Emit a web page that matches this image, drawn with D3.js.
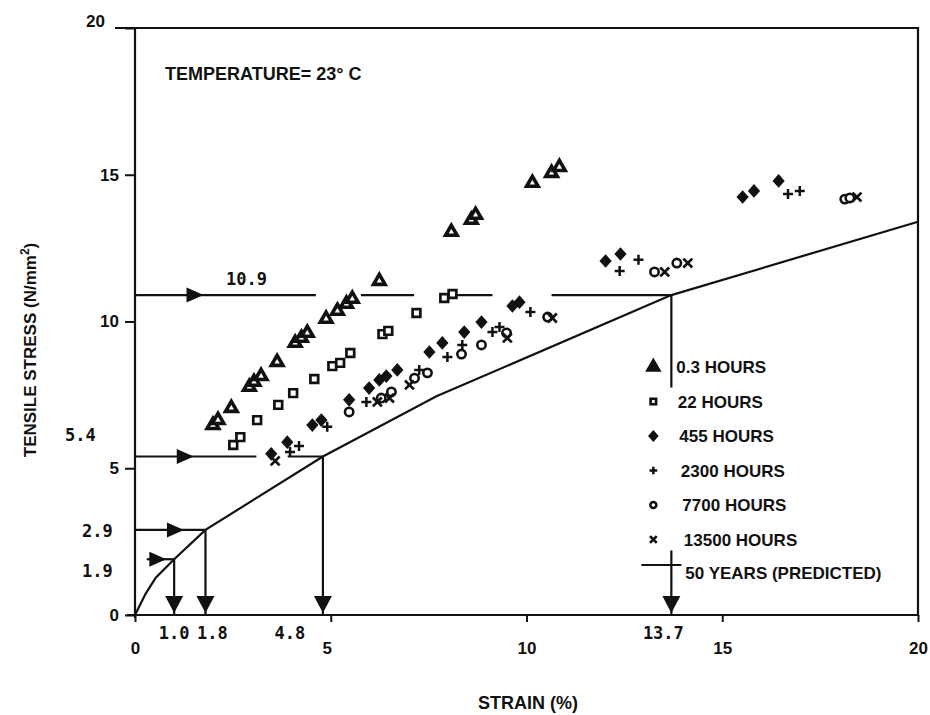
<!DOCTYPE html>
<html lang='en'>
<head>
  <meta charset='utf-8'/>
  <title>Tensile stress vs strain, 23 °C</title>
  <script src='https://d3js.org/d3.v7.min.js'></script>
  <style>
    body{margin:0;background:#ffffff;}
    text{fill:#111;}
    .sans{font-family:'Liberation Sans',Arial,Helvetica,sans-serif;font-weight:bold;}
    .mono{font-family:'DejaVu Sans Mono','Liberation Mono',monospace;font-weight:bold;}
  </style>
</head>
<body>
<svg id='chart'></svg>
<script>
// Data (strain %, tensile stress N/mm2)
const xTicks = [0, 5, 10, 15, 20];
const yTicks = [0, 5, 10, 15, 20];

const hours0_3 = [[1.99,6.47],[2.12,6.64],[2.46,7.05],[2.92,7.77],[3.04,7.94],[3.22,8.14],[3.63,8.62],
  [4.09,9.27],[4.25,9.44],[4.40,9.61],[4.88,10.09],[5.17,10.36],[5.40,10.60],[5.55,10.77],[6.24,11.38],
  [8.08,13.05],[8.59,13.46],[8.70,13.63],[10.15,14.72],[10.64,15.06],[10.84,15.26]];
const hours22 = [[2.51,5.79],[2.69,6.06],[3.12,6.64],[3.66,7.16],[4.04,7.56],[4.58,8.04],[5.04,8.48],
  [5.24,8.59],[5.50,8.93],[6.32,9.57],[6.47,9.68],[7.19,10.29],[7.90,10.80],[8.11,10.94]];
const hours455 = [[3.48,5.49],[3.89,5.89],[4.53,6.47],[4.76,6.64],[5.47,7.33],[5.98,7.73],[6.24,8.01],
  [6.42,8.14],[6.70,8.35],[7.52,8.96],[7.85,9.27],[8.41,9.64],[8.85,9.98],[9.64,10.53],[9.82,10.66],
  [12.02,12.06],[12.40,12.30],[15.52,14.24],[15.81,14.45],[16.44,14.79]];
const hours2300 = [[3.96,5.55],[4.19,5.76],[4.91,6.41],[5.91,7.26],[7.26,8.35],[7.98,8.79],[8.36,9.20],
  [9.13,9.64],[9.31,9.81],[10.10,10.32],[12.38,11.72],[12.86,12.10],[16.68,14.34],[16.98,14.45]];
const hours7700 = [[5.47,6.92],[6.29,7.39],[6.55,7.60],[7.14,8.07],[7.47,8.25],[8.34,8.89],[8.85,9.20],
  [9.49,9.61],[10.54,10.15],[13.27,11.69],[13.84,11.99],[18.13,14.17],[18.26,14.21]];
const hours13500 = [[3.58,5.25],[6.19,7.26],[6.50,7.39],[7.01,7.84],[9.51,9.44],[10.66,10.12],
  [13.53,11.69],[14.12,11.99],[18.44,14.24]];

// 50 years predicted isochronous curve
const predicted = [[0,0],[0.27,0.72],[0.53,1.27],[1.0,1.9],[1.8,2.9],[4.8,5.4],[7.7,7.45],[13.7,10.9],[20,13.4]];

// read-across guides: stress level -> strain, with the visible runs of each line
const guideStress = [10.9, 5.4, 2.9, 1.9];
const guideStrain = [13.7, 4.8, 1.8, 1.0];
const guideHRuns = [[[0,4.62],[5.77,7.13],[8.08,9.13],[10.64,13.7]], [[0,3.1],[3.9,4.8]], [[0,1.8]], [[0.3,1.0]]];
const guideVRuns = [[[0,2.2],[7.75,10.9]], [[0,5.4]], [[0,2.9]], [[0,1.9]]];
const guideArrowAt = [1.75, 1.5, 1.25, 0.8];

const legendLabels = ['0.3 HOURS','22 HOURS','455 HOURS','2300 HOURS','7700 HOURS','13500 HOURS'];

// Settings
const width = 930, height = 715;
const svg = d3.select('#chart').attr('width', width).attr('height', height);

const x = d3.scaleLinear().domain([0, 20]).range([135, 918]);
const y = d3.scaleLinear().domain([0, 20]).range([615, 28]);

// custom symbols (stroke plus / cross, square-ish diamond)
const plus = {draw(ctx, size){ const r = Math.sqrt(size)/2; ctx.moveTo(-r,0); ctx.lineTo(r,0); ctx.moveTo(0,-r); ctx.lineTo(0,r); }};
const cross = {draw(ctx, size){ const r = Math.sqrt(size)/2; ctx.moveTo(-r,-r); ctx.lineTo(r,r); ctx.moveTo(-r,r); ctx.lineTo(r,-r); }};
const diamond = {draw(ctx, size){ const r = Math.sqrt(size/2); ctx.moveTo(0,-r); ctx.lineTo(r*0.9,0); ctx.lineTo(0,r); ctx.lineTo(-r*0.9,0); ctx.closePath(); }};

const series = [
  {name: legendLabels[0], data: hours0_3,   type: d3.symbolTriangle, size: 58, fill: '#fff', sw: 3.6, lsize: 45, lfill: '#111'},
  {name: legendLabels[1], data: hours22,    type: d3.symbolSquare,   size: 60, fill: '#fff', sw: 2.7, lsize: 30, lfill: '#fff'},
  {name: legendLabels[2], data: hours455,   type: diamond,           size: 70, fill: '#111', sw: 1.2, lsize: 50, lfill: '#111'},
  {name: legendLabels[3], data: hours2300,  type: plus,              size: 100, fill: 'none', sw: 2.5, lsize: 60, lfill: 'none'},
  {name: legendLabels[4], data: hours7700,  type: d3.symbolCircle,   size: 55, fill: '#fff', sw: 2.6, lsize: 28, lfill: '#fff'},
  {name: legendLabels[5], data: hours13500, type: cross,             size: 80, fill: 'none', sw: 2.7, lsize: 45, lfill: 'none'}
];

// Frame and axes
const ink = '#111';
svg.append('path')
  .attr('d', `M${x(0)-20},${y(20)}H${x(20)}V${y(0)}H${x(0)-8}M${x(0)},${y(20)}V${y(0)+3}`)
  .attr('fill', 'none').attr('stroke', ink).attr('stroke-width', 2.2);

const yAxis = svg.append('g').attr('class', 'sans')
  .attr('transform', `translate(${x(0)},0)`)
  .call(d3.axisLeft(y).tickValues(yTicks).tickSize(10).tickPadding(6));
yAxis.select('.domain').remove();
yAxis.selectAll('line').attr('stroke', ink).attr('stroke-width', 2);
yAxis.selectAll('text').attr('font-size', 17).attr('fill', ink);
yAxis.selectAll('.tick').filter(d => d === 20).select('text').attr('x', -30).attr('dy', '-0.1em');

const xAxis = svg.append('g').attr('class', 'sans')
  .attr('transform', `translate(0,${y(0)})`)
  .call(d3.axisBottom(x).tickValues(xTicks).tickSize(7).tickPadding(20));
xAxis.select('.domain').remove();
xAxis.selectAll('line').attr('stroke', ink).attr('stroke-width', 2);
xAxis.selectAll('text').attr('font-size', 17).attr('fill', ink);
xAxis.selectAll('.tick').filter(d => d === 5).select('text').attr('x', -4);

// Axis titles
svg.append('text').attr('class', 'sans')
  .attr('x', 528).attr('y', 709).attr('text-anchor', 'middle').attr('font-size', 18)
  .text('STRAIN (%)');
const yTitle = svg.append('text').attr('class', 'sans')
  .attr('transform', 'translate(36,350) rotate(-90)')
  .attr('text-anchor', 'middle').attr('font-size', 17);
yTitle.append('tspan').text('TENSILE STRESS (N/mm');
yTitle.append('tspan').attr('dy', -7).attr('font-size', 12).text('2');
yTitle.append('tspan').attr('dy', 7).text(')');

svg.append('text').attr('class', 'sans')
  .attr('x', 165).attr('y', 80).attr('font-size', 18)
  .text('TEMPERATURE= 23° C');

// Predicted curve
const line = d3.line().x(d => x(d[0])).y(d => y(d[1]));
svg.append('path').datum(predicted)
  .attr('d', line).attr('fill', 'none').attr('stroke', ink).attr('stroke-width', 2.2);

// Guides
const guides = svg.append('g').attr('stroke', ink).attr('stroke-width', 2.2);
guideStress.forEach((s, i) => {
  guideHRuns[i].forEach(r => guides.append('line')
    .attr('x1', x(r[0])).attr('x2', x(r[1])).attr('y1', y(s)).attr('y2', y(s)));
  guideVRuns[i].forEach(r => guides.append('line')
    .attr('x1', x(guideStrain[i])).attr('x2', x(guideStrain[i])).attr('y1', y(r[0])).attr('y2', y(r[1])));
  const tx = x(guideArrowAt[i]), ty = y(s);
  svg.append('path').attr('d', `M${tx},${ty}L${tx-17},${ty-7.5}L${tx-17},${ty+7.5}Z`).attr('fill', ink);
  const bx = x(guideStrain[i]), by = y(0) - 2;
  svg.append('path').attr('d', `M${bx},${by}L${bx-9},${by-17}L${bx+9},${by-17}Z`).attr('fill', ink);
});

// Guide labels
const labelNudgeY = [[226 - x(0), -10], [-70, -16], [-53, 7], [-53, 18]];
guideStress.forEach((s, i) => {
  svg.append('text').attr('class', 'mono').attr('font-size', 17)
    .attr('x', x(0) + labelNudgeY[i][0]).attr('y', y(s) + labelNudgeY[i][1])
    .text(d3.format('.1f')(s));
});
const labelNudgeX = [-8, -33, 7, 0];
guideStrain.forEach((v, i) => {
  svg.append('text').attr('class', 'mono').attr('font-size', 17).attr('text-anchor', 'middle')
    .attr('x', x(v) + labelNudgeX[i]).attr('y', 639)
    .text(d3.format('.1f')(v));
});

// Data markers
series.forEach(s => {
  svg.append('g').selectAll('path').data(s.data).join('path')
    .attr('transform', d => `translate(${x(d[0])},${y(d[1])})`)
    .attr('d', d3.symbol().type(s.type).size(s.size))
    .attr('fill', s.fill).attr('stroke', ink).attr('stroke-width', s.sw);
});

// Legend
const legend = svg.append('g');
const lx = x(guideStrain[0]);
series.forEach((s, i) => {
  const ly = 367 + i * 34.5;
  legend.append('path')
    .attr('transform', `translate(${lx - 18},${ly})`)
    .attr('d', d3.symbol().type(s.type).size(s.lsize))
    .attr('fill', s.lfill).attr('stroke', ink).attr('stroke-width', s.sw);
  legend.append('text').attr('class', 'sans').attr('font-size', 17)
    .attr('x', lx + 5 + i * 1.5).attr('y', ly + 6).text(s.name);
});
legend.append('line')
  .attr('x1', lx - 30).attr('x2', lx + 10).attr('y1', 565).attr('y2', 565)
  .attr('stroke', ink).attr('stroke-width', 2.2);
legend.append('text').attr('class', 'sans').attr('font-size', 17)
  .attr('x', lx + 14).attr('y', 579).text('50 YEARS (PREDICTED)');
</script>
</body>
</html>
